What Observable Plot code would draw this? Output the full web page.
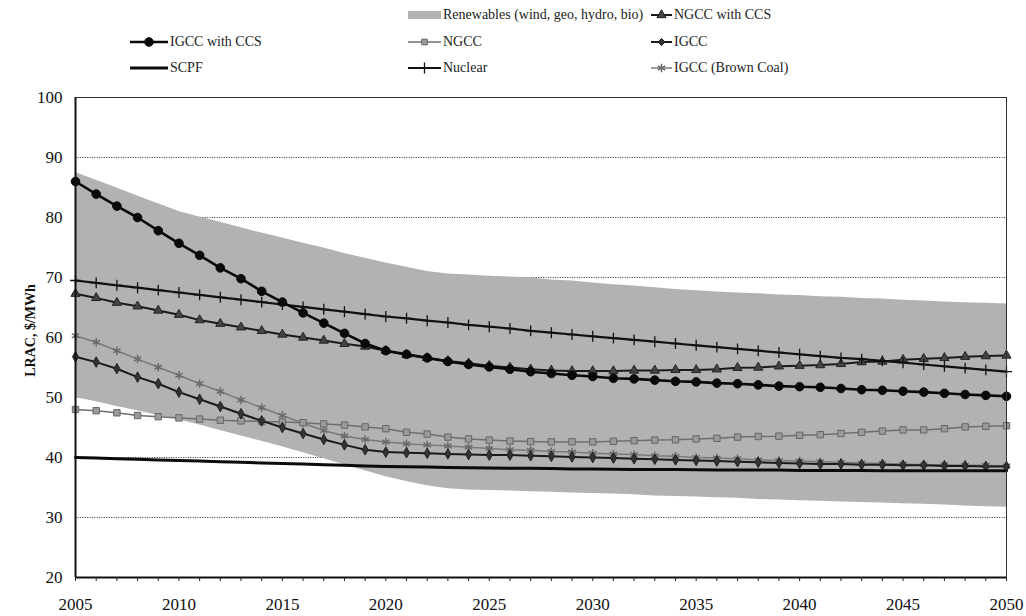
<!DOCTYPE html>
<html><head><meta charset="utf-8">
<script src="https://cdn.jsdelivr.net/npm/d3@7"></script>
<script src="https://cdn.jsdelivr.net/npm/@observablehq/plot@0.6"></script>
<style>
body{margin:0;background:#fff;font-family:"Liberation Serif",serif;}
#legend{position:relative;width:1026px;height:80px;}
.item{position:absolute;display:flex;align-items:center;font-size:14px;color:#222;white-space:nowrap;transform:translateY(-50%);}
.item svg{display:block;margin-right:2px}
</style></head><body>
<div id="legend"></div><div id="chart"></div>
<script>
// ---- data ----
const years = [2005,2006,2007,2008,2009,2010,2011,2012,2013,2014,2015,2016,2017,2018,2019,2020,2021,2022,2023,2024,2025,2026,2027,2028,2029,2030,2031,2032,2033,2034,2035,2036,2037,2038,2039,2040,2041,2042,2043,2044,2045,2046,2047,2048,2049,2050];
const xTicks = [2005,2010,2015,2020,2025,2030,2035,2040,2045,2050];
const yTicks = [20,30,40,50,60,70,80,90,100];
const gridTicks = [30,40,50,60,70,80,90];

const renewHigh = [87.5,86.2,84.9,83.6,82.3,81.0,80.1,79.2,78.3,77.4,76.6,75.7,74.9,74.0,73.2,72.4,71.7,71.0,70.6,70.4,70.2,70.1,69.9,69.6,69.4,69.1,68.8,68.6,68.3,68.0,67.8,67.6,67.4,67.3,67.1,67.0,66.8,66.7,66.5,66.4,66.2,66.1,65.9,65.8,65.7,65.6];
const renewLow = [50.0,49.3,48.5,47.8,47.0,46.3,45.4,44.5,43.6,42.7,41.8,40.8,39.8,38.8,37.8,36.8,36.0,35.3,34.8,34.6,34.5,34.4,34.3,34.2,34.1,34.0,33.9,33.8,33.6,33.5,33.4,33.3,33.2,33.0,32.9,32.8,32.7,32.6,32.5,32.4,32.3,32.2,32.1,31.9,31.8,31.7];
const igccCCS = [86.0,83.9,81.9,80.0,77.8,75.7,73.7,71.6,69.8,67.7,65.9,64.1,62.4,60.7,59.0,57.8,57.2,56.6,56.0,55.5,55.1,54.7,54.3,54.0,53.7,53.5,53.2,53.1,52.9,52.7,52.6,52.4,52.3,52.1,51.9,51.8,51.7,51.5,51.3,51.2,51.05,50.9,50.7,50.5,50.35,50.2];
const ngccCCS = [67.3,66.6,65.8,65.2,64.5,63.8,62.9,62.3,61.7,61.1,60.5,60.0,59.5,58.95,58.5,57.8,57.1,56.6,56.1,55.7,55.3,55.0,54.7,54.5,54.4,54.4,54.4,54.5,54.5,54.6,54.6,54.7,54.95,55.0,55.2,55.3,55.4,55.6,55.9,56.0,56.3,56.45,56.6,56.8,56.9,57.0];
const nuclear = [69.5,69.1,68.7,68.3,67.9,67.5,67.1,66.7,66.3,65.9,65.5,65.1,64.7,64.3,63.9,63.5,63.2,62.8,62.5,62.1,61.8,61.5,61.1,60.8,60.5,60.2,59.9,59.6,59.3,59.0,58.7,58.4,58.1,57.8,57.5,57.2,56.9,56.6,56.4,56.1,55.8,55.5,55.2,54.9,54.6,54.3];
const ngcc = [48.0,47.8,47.45,47.0,46.8,46.6,46.4,46.2,46.1,46.0,45.9,45.8,45.6,45.4,45.1,44.8,44.2,43.9,43.4,43.1,42.9,42.75,42.65,42.6,42.6,42.6,42.7,42.8,42.9,42.95,43.1,43.2,43.4,43.5,43.55,43.7,43.8,44.0,44.2,44.4,44.6,44.6,44.8,45.1,45.2,45.3];
const brownCoal = [60.3,59.2,57.8,56.4,55.05,53.7,52.3,51.0,49.6,48.3,47.0,45.7,44.5,43.6,43.0,42.6,42.3,42.1,41.9,41.7,41.5,41.3,41.2,41.0,40.9,40.7,40.6,40.5,40.3,40.2,40.0,39.9,39.8,39.6,39.5,39.4,39.3,39.2,39.1,39.0,38.9,38.8,38.8,38.7,38.7,38.6];
const igcc = [56.8,55.9,54.8,53.4,52.3,50.9,49.7,48.5,47.3,46.1,45.0,44.0,43.0,42.1,41.3,40.9,40.8,40.7,40.6,40.5,40.4,40.4,40.3,40.2,40.1,40.0,39.9,39.8,39.7,39.6,39.5,39.4,39.3,39.2,39.1,39.0,38.9,38.9,38.8,38.8,38.7,38.7,38.6,38.6,38.5,38.5];
const scpf = [40.0,39.9,39.8,39.7,39.6,39.5,39.4,39.3,39.2,39.1,39.0,38.9,38.8,38.7,38.6,38.5,38.45,38.4,38.35,38.3,38.25,38.2,38.2,38.15,38.1,38.1,38.05,38.0,38.0,38.0,37.95,37.9,37.9,37.9,37.9,37.85,37.85,37.85,37.85,37.8,37.8,37.8,37.8,37.8,37.8,37.8];

const renewName = "Renewables (wind, geo, hydro, bio)";
const seriesNames = ["IGCC (Brown Coal)","NGCC","IGCC","SCPF","NGCC with CCS","Nuclear","IGCC with CCS"];
const seriesValues = [brownCoal, ngcc, igcc, scpf, ngccCCS, nuclear, igccCCS];

// ---- styles ----
const styles = {
  "IGCC (Brown Coal)": {stroke:"#7a7a7a", width:1.5, symbol:"asterisk", r:4, fill:"none", mstroke:"#6a6a6a", mw:1.5},
  "NGCC": {stroke:"#6e6e6e", width:1.5, symbol:"square", r:3.6, fill:"#9a9a9a", mstroke:"#666", mw:1},
  "IGCC": {stroke:"#1a1a1a", width:2, symbol:"diamond", r:3.2, fill:"#333", mstroke:"#222", mw:1},
  "SCPF": {stroke:"#0a0a0a", width:3, symbol:null},
  "NGCC with CCS": {stroke:"#1a1a1a", width:2, symbol:"triangle", r:3.4, fill:"#444", mstroke:"#222", mw:1},
  "Nuclear": {stroke:"#111", width:2.2, symbol:"plus", r:3.6, fill:"none", mstroke:"#111", mw:1.3},
  "IGCC with CCS": {stroke:"#0a0a0a", width:2.6, symbol:"circle", r:4.3, fill:"#0a0a0a", mstroke:"#0a0a0a", mw:1}
};
const bandFill = "#b2b2b2";

// ---- chart ----
const band = years.map((year, i) => ({year, lo: renewLow[i], hi: renewHigh[i]}));
const marks = [
  Plot.gridY(gridTicks, {stroke:"#333", strokeOpacity:0.85, strokeDasharray:"1.2,1.2", strokeWidth:1}),
  Plot.areaY(band, {x:"year", y1:"lo", y2:"hi", fill: bandFill}),
];
seriesNames.forEach((name, k) => {
  const rows = years.map((year, i) => ({year, value: seriesValues[k][i]}));
  const s = styles[name];
  marks.push(Plot.lineY(rows, {x:"year", y:"value", stroke:s.stroke, strokeWidth:s.width}));
  if (s.symbol) marks.push(Plot.dot(rows, {x:"year", y:"value", symbol:s.symbol, r:s.r, fill:s.fill, stroke:s.mstroke, strokeWidth:s.mw}));
});
marks.push(
  Plot.frame({stroke:"#333", strokeWidth:1}),
  Plot.ruleX([2005], {stroke:"#111", strokeWidth:2}),
  Plot.ruleY([20], {stroke:"#111", strokeWidth:2}),
  Plot.axisY(yTicks, {tickSize:0, tickPadding:13, label:null, fontSize:17}),
  Plot.axisX(years, {tickSize:4, tickFormat:() => "", label:null, stroke:"#222"}),
  Plot.axisX(xTicks, {tickSize:0, tickPadding:20, tickFormat:d => String(d), label:null, fontSize:17}),
  Plot.text(["LRAC, $/MWh"], {frameAnchor:"left", textAnchor:"middle", dx:-45, dy:-7, rotate:-90, fontWeight:"bold", fontSize:14, fill:"#111"})
);

const chart = Plot.plot({
  width: 1026, height: 536,
  marginLeft: 75, marginRight: 20, marginTop: 17, marginBottom: 39,
  x: {domain:[2005, 2050], label:null},
  y: {domain:[20, 100], label:null},
  style: {fontFamily:"Liberation Serif", fontSize:"17px", color:"#111", background:"#fff"},
  marks
});
document.getElementById("chart").appendChild(chart);

// ---- legend ----
const legendCols = {A:{left:130, w:38}, B:{left:408, w:33}, C:{left:651, w:21}};
const legendRows = [15, 41.5, 67.5];
const legendPlace = [
  [renewName, "B", 0], ["NGCC with CCS", "C", 0],
  ["IGCC with CCS", "A", 1], ["NGCC", "B", 1], ["IGCC", "C", 1],
  ["SCPF", "A", 2], ["Nuclear", "B", 2], ["IGCC (Brown Coal)", "C", 2]
];
const symMap = {circle:d3.symbolCircle, triangle:d3.symbolTriangle, diamond:d3.symbolDiamond2, square:d3.symbolSquare2, asterisk:d3.symbolAsterisk, plus:d3.symbolPlus};
const legend = d3.select("#legend");
legendPlace.forEach(([name, col, row]) => {
  const c = legendCols[col];
  const item = legend.append("div").attr("class","item").style("left", c.left+"px").style("top", legendRows[row]+"px");
  const svg = item.append("svg").attr("width", c.w).attr("height", 12);
  if (name === renewName) {
    svg.append("rect").attr("x",0).attr("y",2).attr("width",c.w).attr("height",8).attr("fill",bandFill);
  } else {
    const s = styles[name];
    svg.append("line").attr("x1",0).attr("x2",c.w).attr("y1",6).attr("y2",6).attr("stroke",s.stroke).attr("stroke-width",s.width);
    if (s.symbol) {
      svg.append("path").attr("transform",`translate(${c.w/2},6)`)
        .attr("d", d3.symbol(symMap[s.symbol], Math.PI*s.r*s.r)())
        .attr("fill", s.fill).attr("stroke", s.mstroke).attr("stroke-width", s.mw);
    }
  }
  item.append("span").text(name);
});
</script>
</body></html>
